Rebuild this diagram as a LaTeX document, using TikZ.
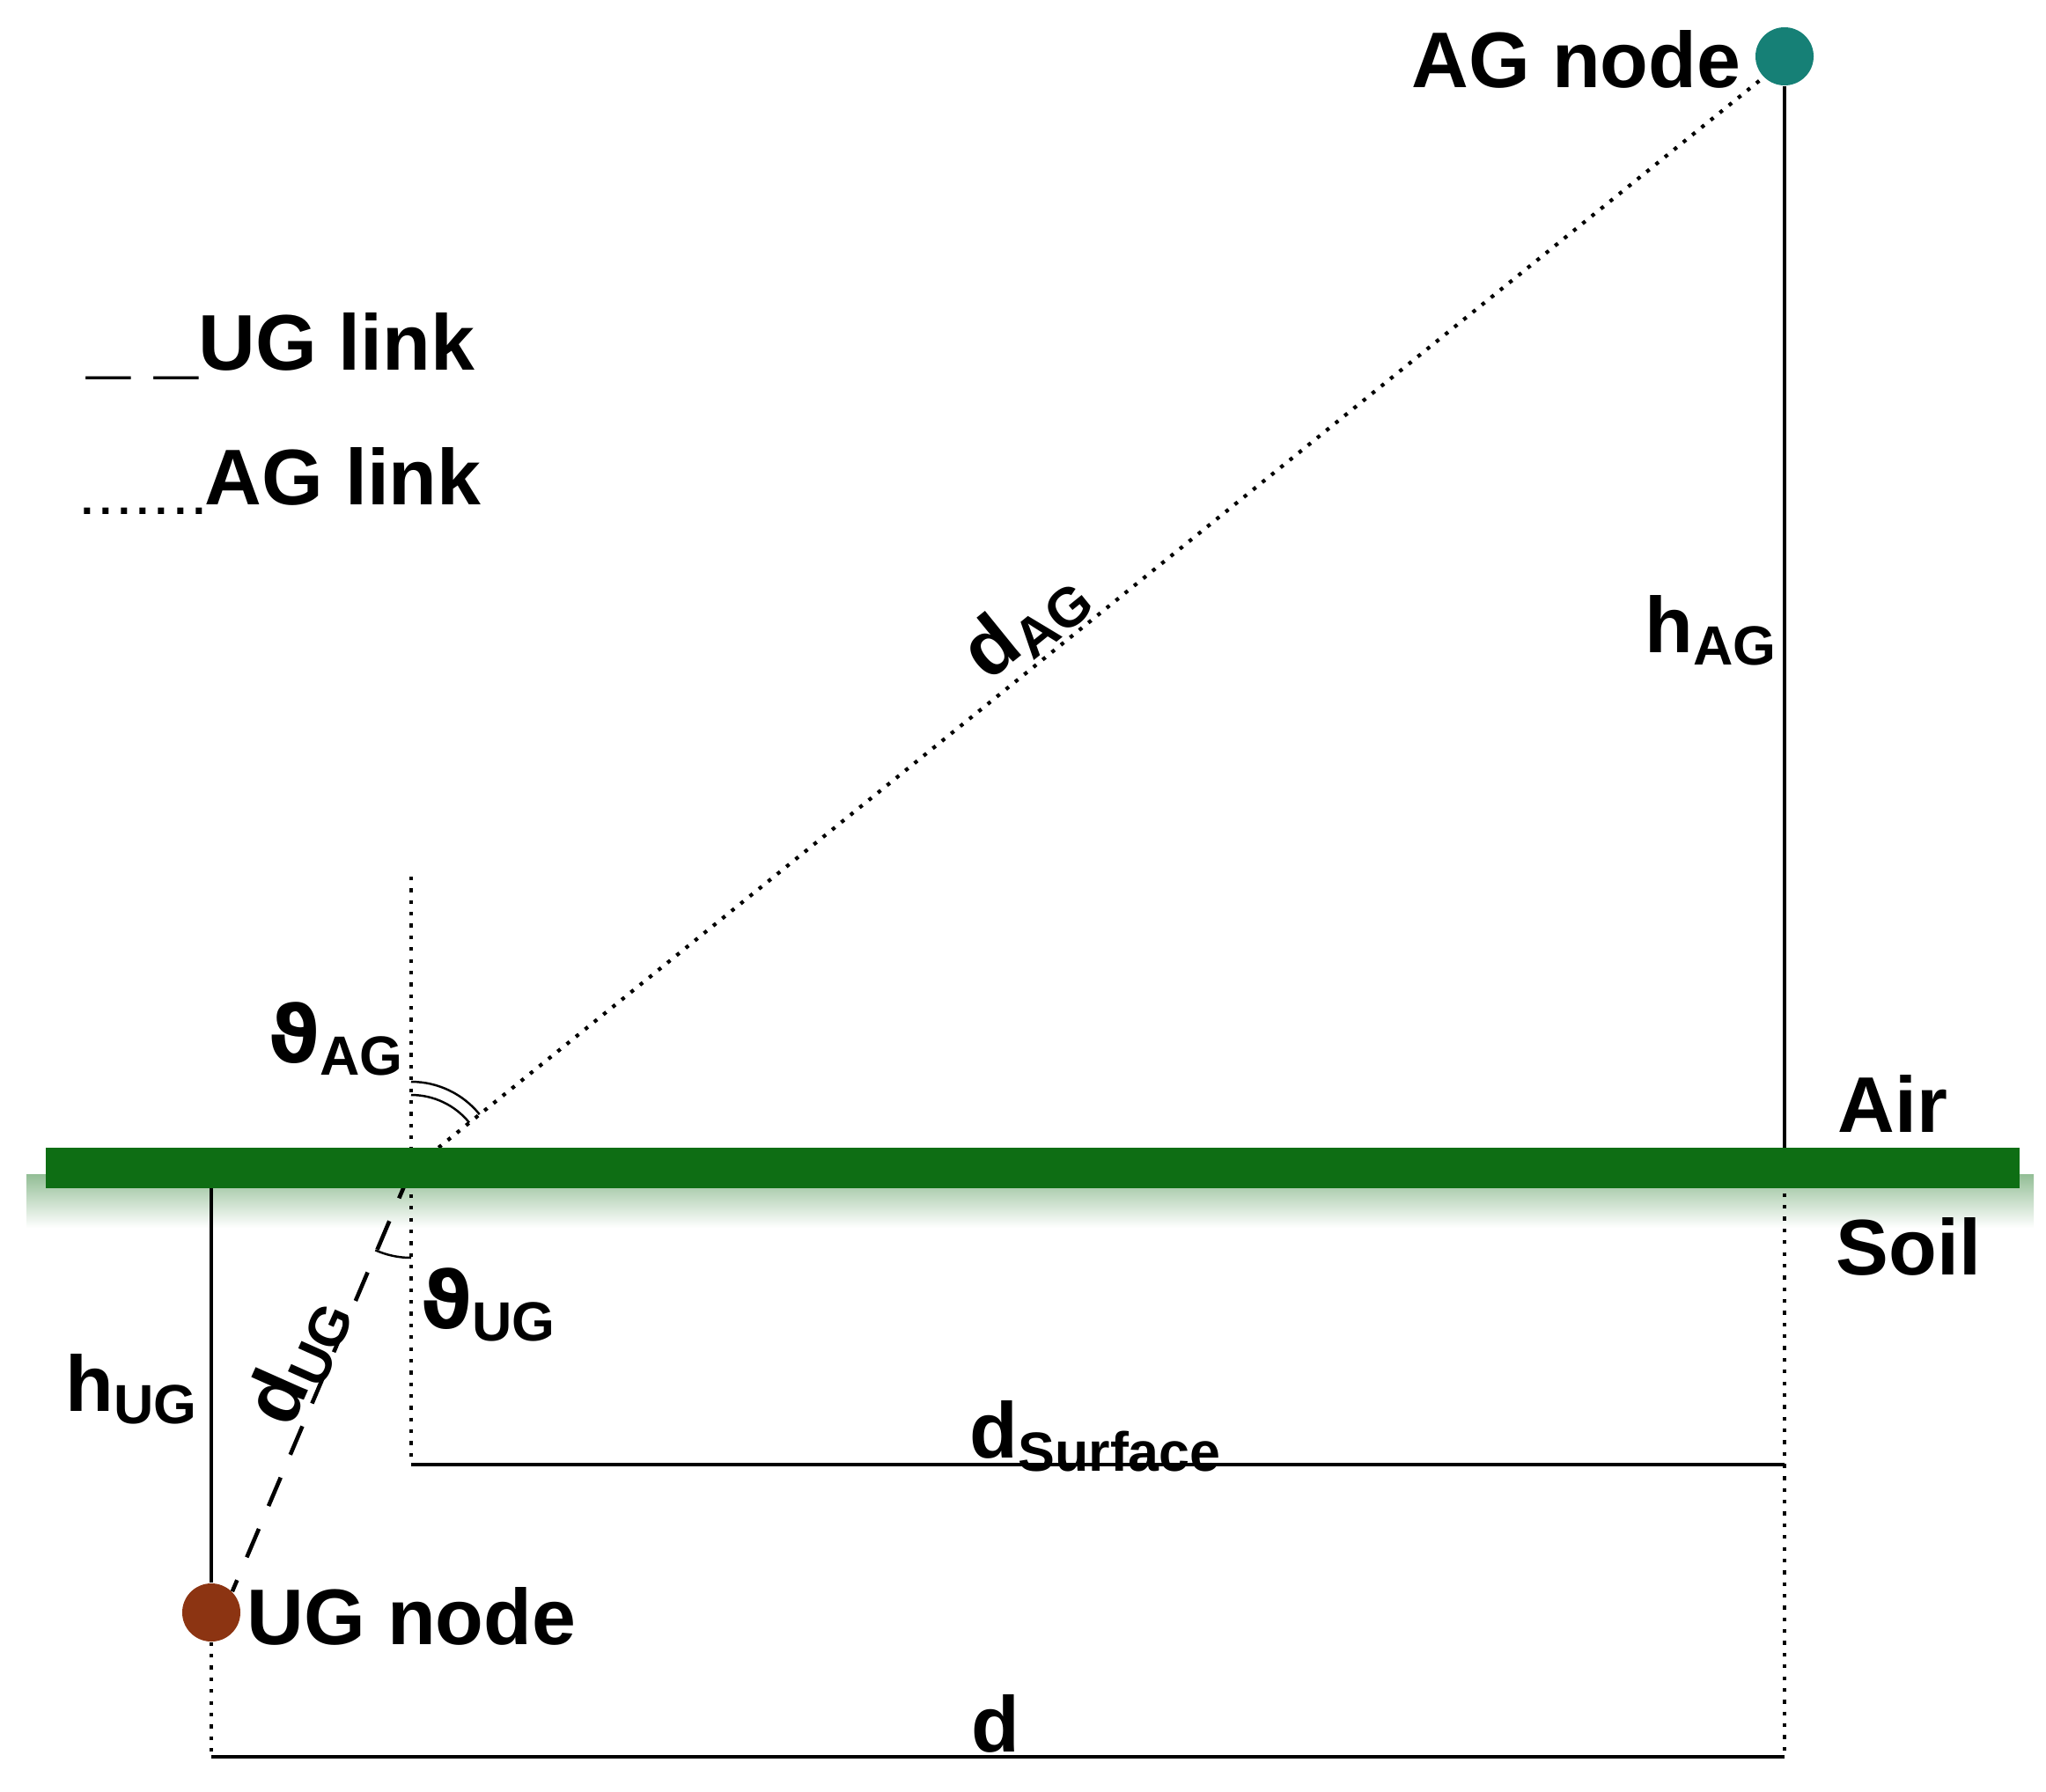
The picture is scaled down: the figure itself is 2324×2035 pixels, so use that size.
\documentclass[tikz,border=0pt]{standalone}
\usepackage{fontspec}
\usepackage{amsmath}
\setmainfont{Liberation Sans}
\newfontfamily\djv{DejaVu Sans}
\usetikzlibrary{calc}
\definecolor{agc}{RGB}{22,128,118}
\definecolor{ugc}{RGB}{140,52,18}
\definecolor{grn}{RGB}{14,110,20}
\newcommand{\thet}{{\djv\bfseries ϑ}}
\tikzset{
 lbl/.style={font=\bfseries\fontsize{25.5}{30}\selectfont, inner sep=0pt},
 thinl/.style={line width=0.9pt},
 dotl/.style={line width=1.2pt, dash pattern=on 1.2pt off 2.6pt},
 dashl/.style={line width=1.3pt, dash pattern=on 10pt off 8pt},
}
\begin{document}
\begin{tikzpicture}[x=0.01cm,y=-0.01cm]
\useasboundingbox (0,0) rectangle (2324,2035);
% ground shadow
\shade[top color=grn!45, bottom color=white] (30,1334) rectangle (2310,1395);
% coordinates
\coordinate (O) at (467,1329);
\coordinate (Otop) at (467,996);
\coordinate (Obot) at (467,1664);
\coordinate (Rsurf) at (2027,1329);
\coordinate (Rmid) at (2027,1664);
\coordinate (Rbot) at (2027,1996);
\coordinate (Lsurf) at (240,1329);
\coordinate (Lbot) at (240,1996);
% nodes
\node[circle, fill=agc, minimum size=0.66cm, inner sep=0] (ag) at (2027,64) {};
\node[circle, fill=ugc, minimum size=0.66cm, inner sep=0] (ug) at (240,1832) {};
% lines
\draw[thinl] (ag.south) -- (Rsurf);
\draw[dotl, line width=0.9pt] (Rsurf) -- (Rmid);
\draw[dotl, line width=0.9pt] (Rmid) -- (Rbot);
\draw[dotl, line width=0.9pt] (Otop) -- (Obot);
\draw[thinl] (Obot) -- (Rmid);
\draw[thinl] (Lsurf) -- (ug);
\draw[dotl, line width=0.9pt] (ug) -- (Lbot);
\draw[thinl] (Lbot) -- (Rbot);
\draw[dotl] (O) -- (ag.south west);
\draw[dashl] (O) -- (ug.north east);
% angle marks
\draw[line width=0.7pt] ($(O)+(-90:85)$) arc[start angle=-90, end angle=-39, radius=85];
\draw[line width=0.7pt] ($(O)+(-90:100)$) arc[start angle=-90, end angle=-39, radius=100];
\draw[line width=0.7pt] ($(O)+(90:100)$) arc[start angle=90, end angle=114, radius=100];
% ground line
\draw[grn, line width=13pt] (52,1327) -- (2294,1327);
% labels
\node[lbl, anchor=east] (agl) at (1978,67) {AG node};
\node[lbl, anchor=west] (ugl) at (280,1836) {UG node};
\node[lbl, anchor=base west] (leg1) at (98,420) {\_\hspace{0.3em}\_UG link};
\node[lbl, anchor=base west] (leg2) at (92,573) {\raisebox{-0.25ex}{\fontsize{14}{14}\selectfont .\kern2.1pt.\kern2.1pt.\kern2.1pt.\kern2.1pt.\kern2.1pt.\kern2.1pt.}AG link};
\node[lbl, rotate=39] (dag) at (1165,708) {d$_{\text{AG}}$};
\node[lbl, anchor=east] (hag) at (2020,716) {h$_{\text{AG}}$};
\node[lbl] (tag) at (382,1180) {\thet$_{\text{AG}}$};
\node[lbl] (tug) at (555,1482) {\thet$_{\text{UG}}$};
\node[lbl] (hug) at (150,1578) {h$_{\text{UG}}$};
\node[lbl, rotate=66] (dug) at (338,1545) {d$_{\text{UG}}$};
\node[lbl] (dsurf) at (1245,1632) {d$_{\text{Surface}}$};
\node[lbl] (dd) at (1131,1958) {d};
\node[lbl] (air) at (2150,1254) {Air};
\node[lbl] (soil) at (2168,1416) {Soil};
\end{tikzpicture}
\end{document}
